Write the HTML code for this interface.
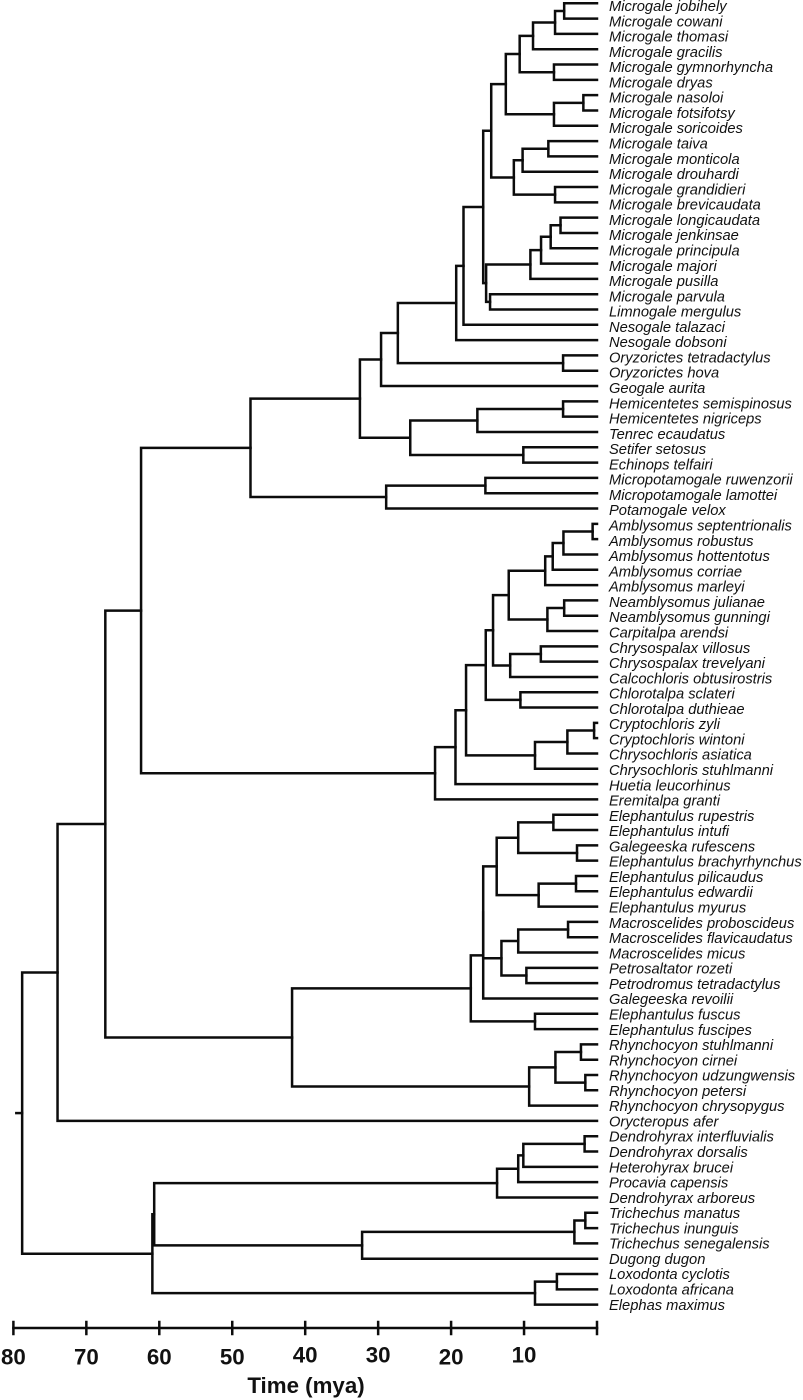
<!DOCTYPE html>
<html lang="en">
<head>
<meta charset="utf-8">
<title>Time-calibrated phylogeny of Afrotheria</title>
<style>
html,body{margin:0;padding:0;background:#fff;}
svg{display:block;}
.taxon{font:italic 14.7px "Liberation Sans",sans-serif;fill:#111;}
.tick-label{font:bold 22.3px "Liberation Sans",sans-serif;fill:#111;text-anchor:middle;}
.axis-title{font:bold 22.3px "Liberation Sans",sans-serif;fill:#111;text-anchor:middle;}
.branch{fill:none;stroke:#0c0c0c;stroke-width:2.5;stroke-linejoin:miter;stroke-linecap:square;}
</style>
</head>
<body>
<svg id="chart" xmlns="http://www.w3.org/2000/svg" width="803" height="1400" viewBox="0 0 803 1400">
  <rect width="803" height="1400" fill="#fff"/>
  <g id="tree"></g>
  <g id="labels"></g>
  <g id="axis"></g>
  <text class="axis-title" x="306" y="1393">Time (mya)</text>
</svg>
<script>
const taxa = [
"Microgale jobihely","Microgale cowani","Microgale thomasi","Microgale gracilis","Microgale gymnorhyncha","Microgale dryas","Microgale nasoloi","Microgale fotsifotsy","Microgale soricoides","Microgale taiva","Microgale monticola","Microgale drouhardi","Microgale grandidieri","Microgale brevicaudata","Microgale longicaudata","Microgale jenkinsae","Microgale principula","Microgale majori","Microgale pusilla","Microgale parvula","Limnogale mergulus","Nesogale talazaci","Nesogale dobsoni","Oryzorictes tetradactylus","Oryzorictes hova","Geogale aurita","Hemicentetes semispinosus","Hemicentetes nigriceps","Tenrec ecaudatus","Setifer setosus","Echinops telfairi","Micropotamogale ruwenzorii","Micropotamogale lamottei","Potamogale velox",
"Amblysomus septentrionalis","Amblysomus robustus","Amblysomus hottentotus","Amblysomus corriae","Amblysomus marleyi","Neamblysomus julianae","Neamblysomus gunningi","Carpitalpa arendsi","Chrysospalax villosus","Chrysospalax trevelyani","Calcochloris obtusirostris","Chlorotalpa sclateri","Chlorotalpa duthieae","Cryptochloris zyli","Cryptochloris wintoni","Chrysochloris asiatica","Chrysochloris stuhlmanni","Huetia leucorhinus","Eremitalpa granti",
"Elephantulus rupestris","Elephantulus intufi","Galegeeska rufescens","Elephantulus brachyrhynchus","Elephantulus pilicaudus","Elephantulus edwardii","Elephantulus myurus","Macroscelides proboscideus","Macroscelides flavicaudatus","Macroscelides micus","Petrosaltator rozeti","Petrodromus tetradactylus","Galegeeska revoilii","Elephantulus fuscus","Elephantulus fuscipes","Rhynchocyon stuhlmanni","Rhynchocyon cirnei","Rhynchocyon udzungwensis","Rhynchocyon petersi","Rhynchocyon chrysopygus","Orycteropus afer",
"Dendrohyrax interfluvialis","Dendrohyrax dorsalis","Heterohyrax brucei","Procavia capensis","Dendrohyrax arboreus","Trichechus manatus","Trichechus inunguis","Trichechus senegalensis","Dugong dugon","Loxodonta cyclotis","Loxodonta africana","Elephas maximus"
];
// Each clade spans taxa[cladeFirst[k]] .. taxa[cladeLast[k]] and diverged cladeAges[k] million years ago.
const cladeFirst = [0,0,0,4,0,6,6,0,9,9,12,9,0,14,14,14,14,19,14,0,0,0,23,0,0,26,26,29,26,0,31,31,0,
34,34,34,34,39,39,34,42,42,34,45,34,47,47,47,34,34,34,0,
53,55,53,57,57,53,60,60,63,60,53,53,66,53,68,70,68,68,53,0,0,
74,74,74,74,79,79,79,74,83,83,74,0];
const cladeLast = [1,2,3,5,5,7,8,8,10,11,13,13,13,15,16,17,18,20,20,20,21,22,24,24,25,27,28,30,30,30,32,33,33,
35,36,37,38,40,41,41,43,44,44,46,46,48,49,50,50,51,52,52,
54,56,56,58,59,59,61,62,64,64,64,65,67,67,69,71,71,72,72,72,73,
75,76,77,78,80,81,82,82,84,85,85,85];
const cladeAges = [4.5,5.75,8.77,5.9,10.6,1.87,5.9,12.5,6.67,10.2,5.75,11.4,14.5,5.0,6.35,7.67,9.13,14.66,15.2,15.6,18.3,19.3,4.65,27.3,29.6,4.65,16.4,10.1,25.6,32.5,15.3,28.9,47.5,
0.6,4.6,6.07,7.1,4.5,6.8,12.1,7.7,11.9,14.25,10.5,15.25,0.4,4.06,8.5,17.95,19.4,22.2,62.5,
5.98,2.74,10.8,2.88,8.0,13.75,3.97,10.8,9.68,13.1,15.6,15.6,8.5,17.3,2.2,1.6,5.7,9.3,41.8,67.4,73.95,
1.7,10.1,10.8,13.7,1.6,3.1,32.2,60.7,5.5,8.5,60.95,78.8];
const rootStemAge = [79.6];
const tickValues = [80,70,60,50,40,30,20,10,0];
const tickLabels = ["80","70","60","50","40","30","20","10",""];

const NS = "http://www.w3.org/2000/svg";
const xScale = age => 597 - 7.295 * age;
const leafY = i => 3.3 + i * 15.31;
const labelY = i => 11 + i * 15.28;
const raisedTicks = new Set(["40","30","10"]);

const treeLayer = document.getElementById("tree");
const labelLayer = document.getElementById("labels");
const axisLayer = document.getElementById("axis");

function makeLine(parent, d, cls) {
  const p = document.createElementNS(NS, "path");
  p.setAttribute("d", d);
  p.setAttribute("class", cls);
  parent.appendChild(p);
  return p;
}

// Find the widest clade (strictly inside the parent's range) that starts at a given leaf.
function cladeStartingAt(first, limitLast, parent) {
  let best = -1;
  for (let k = 0; k < cladeFirst.length; k++) {
    if (k === parent || cladeFirst[k] !== first || cladeLast[k] > limitLast) continue;
    if (best < 0 || cladeLast[k] > cladeLast[best]) best = k;
  }
  return best;
}

function childrenOf(k) {
  const kids = [];
  let i = cladeFirst[k];
  while (i <= cladeLast[k]) {
    const c = cladeStartingAt(i, cladeLast[k], k);
    if (c >= 0) { kids.push({x: 0, node: c}); i = cladeLast[c] + 1; }
    else { kids.push({x: 0, leaf: i}); i += 1; }
  }
  return kids;
}

function drawNode(k) {
  const x = xScale(cladeAges[k]);
  const kids = childrenOf(k).map(kid => {
    if (kid.node !== undefined) return drawNode(kid.node);
    return {x: xScale(0), y: leafY(kid.leaf)};
  });
  const ys = kids.map(c => c.y);
  const y = (ys[0] + ys[ys.length - 1]) / 2;
  let d = `M${x} ${ys[0]}V${ys[ys.length - 1]}`;
  kids.forEach(c => { d += `M${x} ${c.y}H${c.x}`; });
  const branch = makeLine(treeLayer, d, "branch");
  
  
  return {x, y};
}

let rootIndex = 0;
cladeFirst.forEach((f, k) => {
  if (cladeLast[k] - f > cladeLast[rootIndex] - cladeFirst[rootIndex]) rootIndex = k;
});
const rootPoint = drawNode(rootIndex);
const stem = makeLine(treeLayer, `M${xScale(rootStemAge[0])} ${rootPoint.y}H${rootPoint.x}`, "branch");



taxa.forEach((name, i) => {
  const t = document.createElementNS(NS, "text");
  t.setAttribute("class", "taxon");
  t.setAttribute("x", 609);
  t.setAttribute("y", labelY(i));
  t.textContent = name;
  
  
  labelLayer.appendChild(t);
});

const axisLine = makeLine(axisLayer, `M${xScale(tickValues[0])} 1328H${xScale(tickValues[tickValues.length - 1])}`, "branch");



tickValues.forEach((v, i) => {
  const tick = makeLine(axisLayer, `M${xScale(v)} 1322V1334`, "branch");
  
  
  if (!tickLabels[i]) return;
  const t = document.createElementNS(NS, "text");
  t.setAttribute("class", "tick-label");
  t.setAttribute("x", xScale(v));
  t.setAttribute("y", raisedTicks.has(tickLabels[i]) ? 1362.3 : 1364.3);
  t.textContent = tickLabels[i];
  
  
  axisLayer.appendChild(t);
});
</script>
</body>
</html>
